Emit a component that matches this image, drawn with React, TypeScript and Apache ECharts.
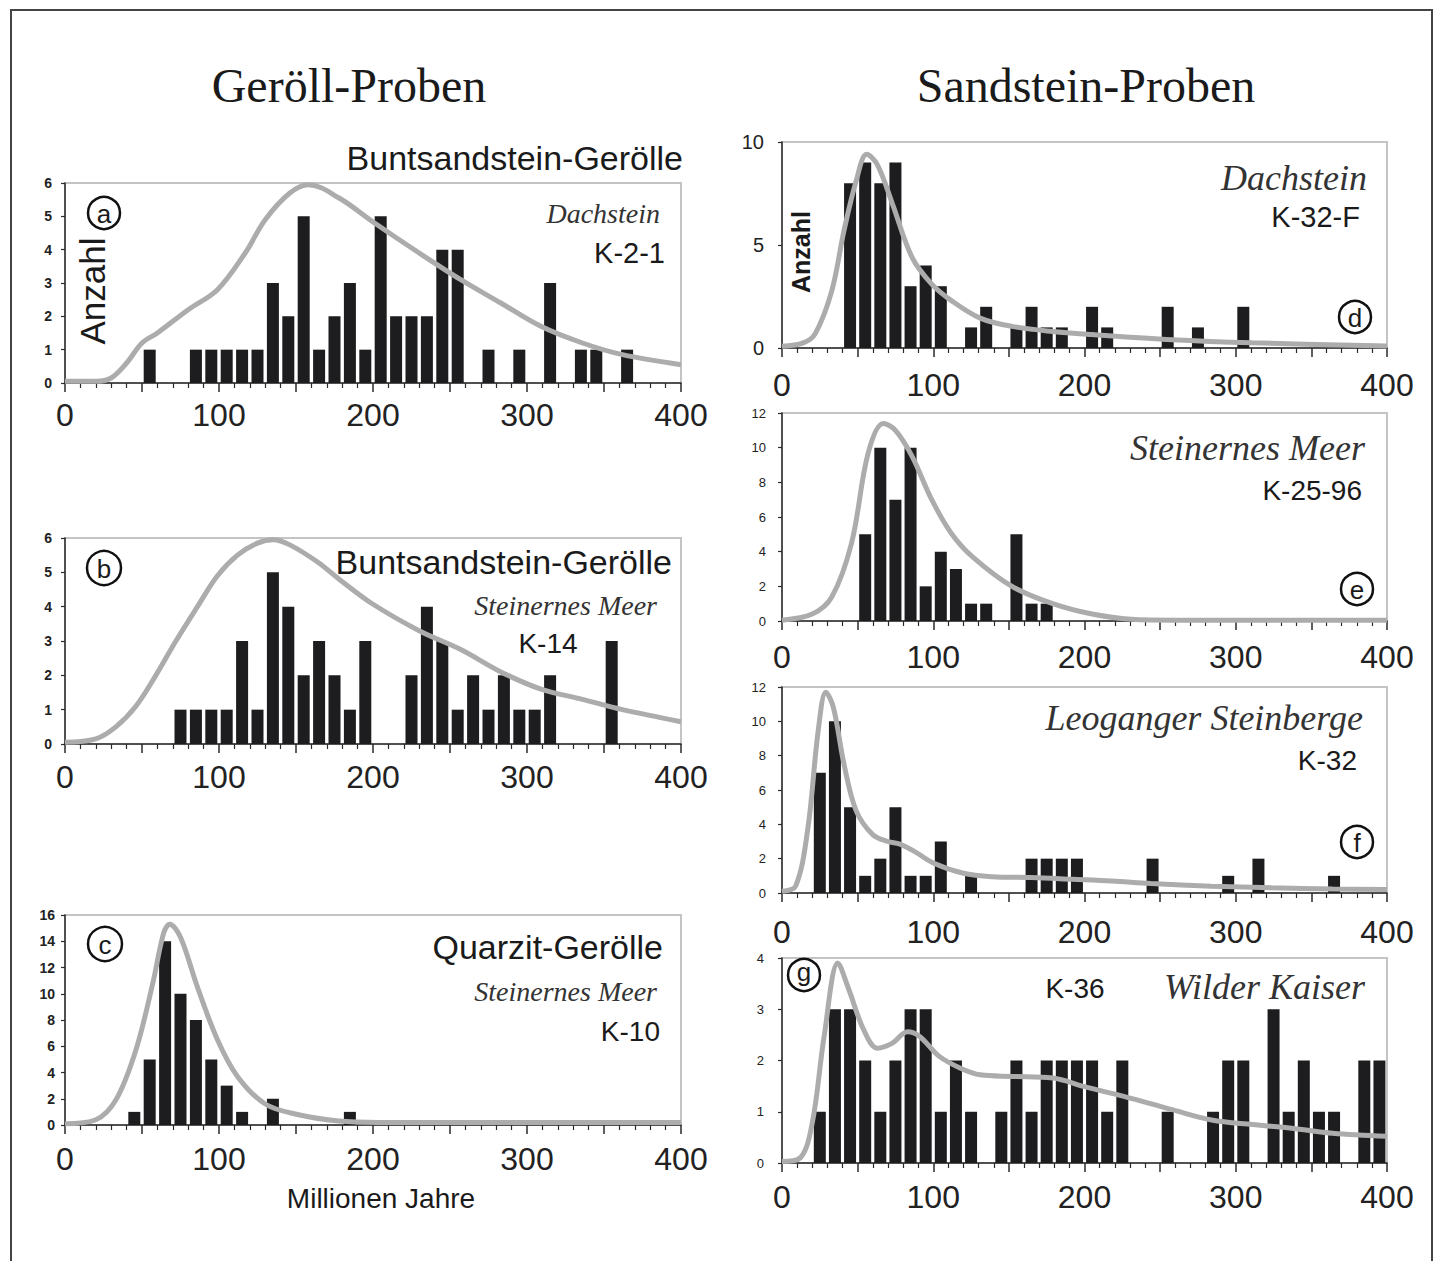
import React, { useEffect, useRef } from "react";
import * as echarts from "echarts";

// Counts per 10-Myr bin, 0–400 Myr (40 bins)
const countsA = [0,0,0,0,0,1,0,0,1,1, 1,1,1,3,2,5,1,2,3,1, 5,2,2,2,4,4,0,1,0,1, 0,3,0,1,1,0,1,0,0,0];
const countsB = [0,0,0,0,0,0,0,1,1,1, 1,3,1,5,4,2,3,2,1,3, 0,0,2,4,3,1,2,1,2,1, 1,2,0,0,0,3,0,0,0,0];
const countsC = [0,0,0,0,1,5,14,10,8,5, 3,1,0,2,0,0,0,0,1,0, 0,0,0,0,0,0,0,0,0,0, 0,0,0,0,0,0,0,0,0,0];
const countsD = [0,0,0,0,8,9,8,9,3,4, 3,0,1,2,0,1,2,1,1,0, 2,1,0,0,0,2,0,1,0,0, 2,0,0,0,0,0,0,0,0,0];
const countsE = [0,0,0,0,0,5,10,7,10,2, 4,3,1,1,0,5,1,1,0,0, 0,0,0,0,0,0,0,0,0,0, 0,0,0,0,0,0,0,0,0,0];
const countsF = [0,0,7,10,5,1,2,5,1,1, 3,0,1,0,0,0,2,2,2,2, 0,0,0,0,2,0,0,0,0,1, 0,2,0,0,0,0,1,0,0,0];
const countsG = [0,0,1,3,3,2,1,2,3,3, 1,2,1,0,1,2,1,2,2,2, 2,1,2,0,0,1,0,0,1,2, 2,0,3,1,2,1,1,0,2,2];

// Density curves: [age, value]
const curveA = [[0,0.05],[20,0.05],[30,0.15],[40,0.6],[50,1.2],[60,1.5],[80,2.2],[99,2.8],[117,3.9],[130,4.9],[146,5.7],[158,5.95],[178,5.55],[201,4.8],[230,3.9],[257,3.1],[283,2.4],[309,1.7],[336,1.2],[362,0.85],[400,0.55]];
const curveB = [[0,0.05],[20,0.15],[33,0.5],[46,1.1],[59,2.0],[72,3.0],[86,4.0],[99,4.9],[112,5.5],[125,5.85],[135,5.95],[146,5.8],[164,5.3],[178,4.8],[199,4.1],[230,3.3],[257,2.75],[283,2.1],[309,1.6],[336,1.3],[362,1.0],[400,0.65]];
const curveC = [[0,0.1],[20,0.4],[33,1.9],[46,5.7],[57,10.8],[64,14.6],[68,15.3],[75,14.3],[86,10.5],[99,6.5],[112,3.7],[130,1.6],[151,0.8],[178,0.3],[204,0.2],[250,0.2],[300,0.2],[350,0.2],[400,0.2]];
const curveD = [[0,0.08],[14,0.25],[22,0.7],[33,2.8],[41,5.7],[49,8.1],[56,9.4],[63,8.9],[73,7.0],[86,4.4],[99,3.1],[112,2.3],[131,1.45],[152,1.05],[179,0.8],[205,0.65],[258,0.4],[311,0.25],[400,0.1]];
const curveE = [[0,0.05],[20,0.4],[33,1.4],[46,4.5],[57,9.7],[67,11.4],[75,11.0],[86,9.5],[99,7.0],[112,5.05],[126,3.7],[152,2.0],[179,1.0],[205,0.4],[231,0.1],[260,0.05],[330,0.05],[400,0.05]];
const curveF = [[0,0.1],[9,0.4],[17,3.7],[24,9.5],[29,11.7],[34,10.8],[41,7.5],[49,4.8],[60,3.4],[70,3.0],[78,2.85],[88,2.4],[100,1.75],[120,1.15],[139,0.95],[165,0.9],[192,0.8],[218,0.7],[244,0.55],[284,0.4],[324,0.3],[364,0.23],[400,0.2]];
const curveG = [[0,0.03],[12,0.1],[20,0.78],[28,2.5],[37,3.9],[44,3.4],[54,2.6],[63,2.24],[73,2.34],[83,2.56],[91,2.47],[104,2.08],[118,1.85],[131,1.72],[152,1.69],[179,1.66],[200,1.49],[226,1.3],[258,1.04],[284,0.84],[311,0.75],[337,0.68],[364,0.58],[400,0.52]];

const xTickLabels = [0, 100, 200, 300, 400];
const binWidth = 10;

const SANS = '"Liberation Sans", Arial, sans-serif';
const SERIF = '"Liberation Serif", "Times New Roman", serif';

const panels = [
  { counts: countsA, curve: curveA, yMax: 6, yStep: 1, grid: { left: 65, top: 183, width: 616, height: 200 }, xMargin: 16, yFont: 14, yBold: true, yMargin: 13 },
  { counts: countsB, curve: curveB, yMax: 6, yStep: 1, grid: { left: 65, top: 538, width: 616, height: 206 }, xMargin: 17, yFont: 14, yBold: true, yMargin: 13 },
  { counts: countsC, curve: curveC, yMax: 16, yStep: 2, grid: { left: 65, top: 915, width: 616, height: 210 }, xMargin: 18, yFont: 14, yBold: true, yMargin: 10 },
  { counts: countsD, curve: curveD, yMax: 10, yStep: 5, grid: { left: 782, top: 142, width: 605, height: 206 }, xMargin: 21, yFont: 20, yBold: false, yMargin: 18 },
  { counts: countsE, curve: curveE, yMax: 12, yStep: 2, grid: { left: 782, top: 413, width: 605, height: 208 }, xMargin: 20, yFont: 13, yBold: false, yMargin: 16 },
  { counts: countsF, curve: curveF, yMax: 12, yStep: 2, grid: { left: 782, top: 687, width: 605, height: 206 }, xMargin: 23, yFont: 13, yBold: false, yMargin: 16 },
  { counts: countsG, curve: curveG, yMax: 4, yStep: 1, grid: { left: 782, top: 958, width: 605, height: 205 }, xMargin: 18, yFont: 13, yBold: false, yMargin: 18 },
];

function txt(text: string, x: number, y: number, size: number, opts: any = {}) {
  return {
    type: "text",
    x,
    y,
    z: 100,
    rotation: opts.rotation || 0,
    style: {
      text,
      fontSize: size,
      fontFamily: opts.family || SANS,
      fontStyle: opts.italic ? "italic" : "normal",
      fontWeight: opts.bold ? "bold" : "normal",
      fill: opts.color || "#1a1a1a",
      align: opts.align || "center",
      verticalAlign: "middle",
      textAlign: opts.align || "center",
      textVerticalAlign: "middle",
    },
  };
}

function circled(letter: string, cx: number, cy: number, r = 16, dy = 1) {
  return [
    { type: "circle", z: 100, shape: { cx, cy, r }, style: { fill: "none", stroke: "#111", lineWidth: 2.5 } },
    txt(letter, cx, cy + dy, 26, {}),
  ];
}

export default function App() {
  const ref = useRef<HTMLDivElement>(null);
  useEffect(() => {
    document.body.style.margin = "0";
    const chart = echarts.init(ref.current!, null, { renderer: "svg" });

    const grid: any[] = [];
    const xAxis: any[] = [];
    const yAxis: any[] = [];
    const series: any[] = [];

    panels.forEach((p, i) => {
      grid.push({ ...p.grid, show: true, borderColor: "#c4c4c4", borderWidth: 2, backgroundColor: "transparent" });
      xAxis.push({
        gridIndex: i,
        type: "value",
        min: 0,
        max: 400,
        interval: 50,
        axisLine: { show: true, onZero: false, lineStyle: { color: "#2a2a2a", width: 1.5 } },
        axisTick: { show: true, length: 9, lineStyle: { color: "#2a2a2a", width: 1.5 } },
        minorTick: { show: true, splitNumber: 5, length: 5, lineStyle: { color: "#2a2a2a", width: 1.2 } },
        splitLine: { show: false },
        axisLabel: {
          margin: p.xMargin,
          fontSize: 32,
          fontFamily: SANS,
          color: "#222",
          formatter: (v: number) => (xTickLabels.includes(v) ? String(v) : ""),
        },
      });
      yAxis.push({
        gridIndex: i,
        type: "value",
        min: 0,
        max: p.yMax,
        interval: p.yStep,
        axisLine: { show: true, lineStyle: { color: "#2a2a2a", width: 1.5 } },
        axisTick: { show: true, length: 4, lineStyle: { color: "#2a2a2a", width: 1.2 } },
        splitLine: { show: false },
        axisLabel: {
          margin: p.yMargin,
          fontSize: p.yFont,
          fontWeight: p.yBold ? "bold" : "normal",
          fontFamily: SANS,
          color: "#222",
        },
      });
      series.push({
        type: "bar",
        xAxisIndex: i,
        yAxisIndex: i,
        barWidth: 12,
        itemStyle: { color: "#1d1d1f" },
        data: p.counts
          .map((c, k) => [k * binWidth + binWidth / 2, c])
          .filter((d) => d[1] > 0),
        z: 2,
      });
      series.push({
        type: "line",
        xAxisIndex: i,
        yAxisIndex: i,
        smooth: 0.35,
        showSymbol: false,
        symbol: "none",
        lineStyle: { color: "#acacac", width: 5 },
        data: p.curve,
        z: 5,
      });
    });

    const graphic: any[] = [
      { type: "rect", z: 100, shape: { x: 11, y: 10, width: 1421, height: 1300 }, style: { fill: "none", stroke: "#444", lineWidth: 2 } },
      txt("Geröll-Proben", 349, 85, 48, { family: SERIF }),
      txt("Sandstein-Proben", 1086, 85, 48, { family: SERIF }),
      // panel a
      txt("Buntsandstein-Gerölle", 683, 158, 34, { align: "right" }),
      txt("Dachstein", 660, 213, 28, { align: "right", family: SERIF, italic: true, color: "#333" }),
      txt("K-2-1", 665, 253, 29, { align: "right" }),
      txt("Anzahl", 92, 291, 35, { rotation: Math.PI / 2 }),
      ...circled("a", 104, 213),
      // panel b
      txt("Buntsandstein-Gerölle", 672, 562, 34, { align: "right" }),
      txt("Steinernes Meer", 657, 605, 28, { align: "right", family: SERIF, italic: true, color: "#333" }),
      txt("K-14", 548, 643, 28, {}),
      ...circled("b", 104, 568, 17),
      // panel c
      txt("Quarzit-Gerölle", 663, 947, 34, { align: "right" }),
      txt("Steinernes Meer", 657, 991, 28, { align: "right", family: SERIF, italic: true, color: "#333" }),
      txt("K-10", 660, 1031, 28, { align: "right" }),
      txt("Millionen Jahre", 381, 1198, 28, {}),
      ...circled("c", 105, 944, 17),
      // panel d
      txt("Dachstein", 1367, 178, 36, { align: "right", family: SERIF, italic: true, color: "#333" }),
      txt("K-32-F", 1360, 217, 29, { align: "right" }),
      txt("Anzahl", 801, 252, 25, { rotation: Math.PI / 2, bold: true }),
      ...circled("d", 1355, 317),
      // panel e
      txt("Steinernes Meer", 1365, 448, 36, { align: "right", family: SERIF, italic: true, color: "#333" }),
      txt("K-25-96", 1362, 490, 28, { align: "right" }),
      ...circled("e", 1357, 589),
      // panel f
      txt("Leoganger Steinberge", 1363, 718, 36, { align: "right", family: SERIF, italic: true, color: "#333" }),
      txt("K-32", 1357, 760, 28, { align: "right" }),
      ...circled("f", 1357, 842),
      // panel g
      txt("K-36", 1075, 988, 28, {}),
      txt("Wilder Kaiser", 1365, 987, 36, { align: "right", family: SERIF, italic: true, color: "#333" }),
      ...circled("g", 804, 975, 16, -3),
    ];

    chart.setOption({
      animation: false,
      backgroundColor: "#ffffff",
      grid,
      xAxis,
      yAxis,
      series,
      graphic,
    });
    return () => chart.dispose();
  }, []);
  return <div ref={ref} style={{ width: 1436, height: 1261 }} />;
}
